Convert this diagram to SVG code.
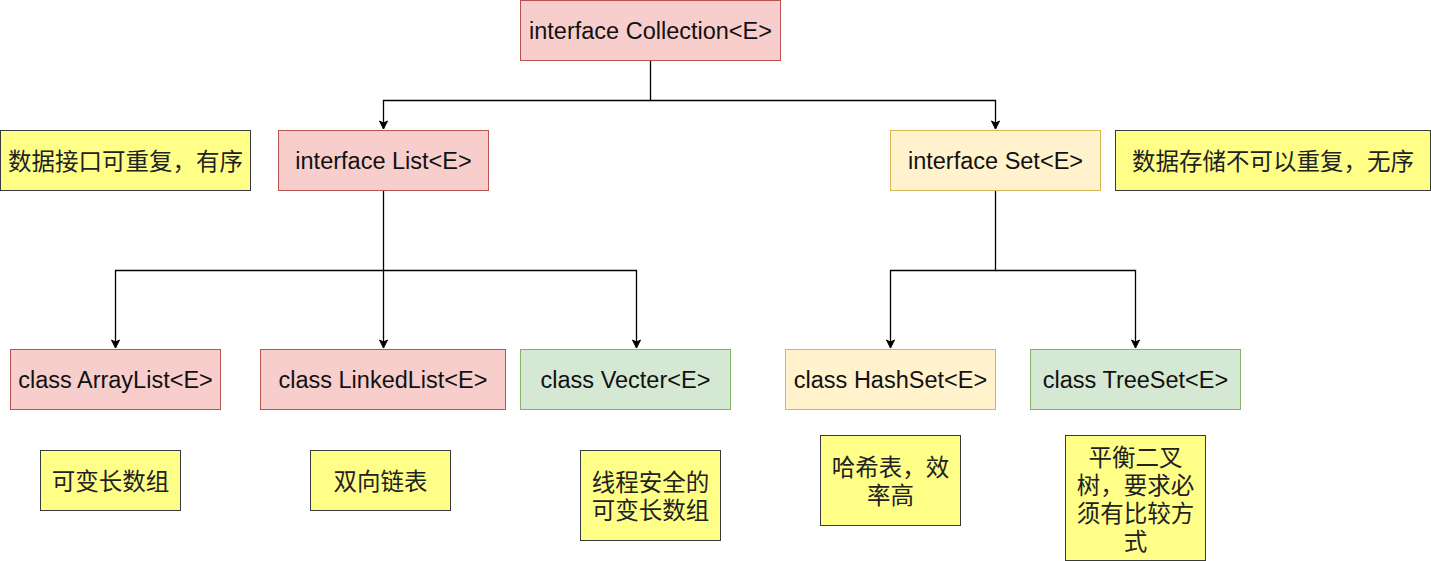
<svg xmlns="http://www.w3.org/2000/svg" width="1431" height="561" viewBox="0 0 1431 561">
<defs>
<marker id="arr" markerWidth="10" markerHeight="10" refX="9" refY="5" orient="auto" markerUnits="userSpaceOnUse">
<path d="M1,1 L9,5 L1,9 L3,5 Z" fill="#000" stroke="#000" stroke-width="1"/>
</marker>
<style>
.red{fill:#f8cecc;stroke:#b85450;stroke-width:1}
.ylw{fill:#fff2cc;stroke:#d6b656;stroke-width:1}
.grn{fill:#d5e8d4;stroke:#82b366;stroke-width:1}
.note{fill:#ffff88;stroke:#36393d;stroke-width:1}
.t{font-family:"Liberation Sans",Arial,sans-serif;font-size:23.5px;fill:#111;text-anchor:middle;dominant-baseline:central}
.c{font-family:"Noto Sans CJK SC","Noto Sans",sans-serif;font-size:23.5px;fill:#222;text-anchor:middle;dominant-baseline:central}
.e{fill:none;stroke:#000;stroke-width:1.3}
</style>
</defs>
<rect width="1431" height="561" fill="#fff"/>
<g id="connectors">
<path class="e" d="M650.5,60.5 V100.5 H383.5 V129" marker-end="url(#arr)"/>
<path class="e" d="M650.5,100.5 H995.5 V129" marker-end="url(#arr)"/>
<path class="e" d="M383.5,190.5 V348" marker-end="url(#arr)"/>
<path class="e" d="M383.5,270.5 H115.5 V348" marker-end="url(#arr)"/>
<path class="e" d="M383.5,270.5 H636.5 V348" marker-end="url(#arr)"/>
<path class="e" d="M995.5,190.5 V270.5 H890.5 V348" marker-end="url(#arr)"/>
<path class="e" d="M995.5,270.5 H1135.5 V348" marker-end="url(#arr)"/>
</g>
<g id="collection"><rect class="red" x="520.5" y="0.5" width="260" height="60"/><text class="t" x="650.5" y="31">interface Collection&lt;E&gt;</text></g>
<g id="list"><rect class="red" x="278.5" y="130.5" width="210" height="60"/><text class="t" x="383.5" y="161">interface List&lt;E&gt;</text></g>
<g id="set"><rect class="ylw" x="890.5" y="130.5" width="210" height="60"/><text class="t" x="995.5" y="161">interface Set&lt;E&gt;</text></g>
<g id="note-list"><rect class="note" x="0.5" y="130.5" width="250" height="60"/><text class="c" x="125.5" y="160">数据接口可重复，有序</text></g>
<g id="note-set"><rect class="note" x="1115.5" y="130.5" width="315" height="60"/><text class="c" x="1273" y="160">数据存储不可以重复，无序</text></g>
<g id="arraylist"><rect class="red" x="10.5" y="349.5" width="210" height="60"/><text class="t" x="115.5" y="380">class ArrayList&lt;E&gt;</text></g>
<g id="linkedlist"><rect class="red" x="260.5" y="349.5" width="245" height="60"/><text class="t" x="383" y="380">class LinkedList&lt;E&gt;</text></g>
<g id="vecter"><rect class="grn" x="520.5" y="349.5" width="210" height="60"/><text class="t" x="625.5" y="380">class Vecter&lt;E&gt;</text></g>
<g id="hashset"><rect class="ylw" x="785.5" y="349.5" width="210" height="60"/><text class="t" x="890.5" y="380">class HashSet&lt;E&gt;</text></g>
<g id="treeset"><rect class="grn" x="1030.5" y="349.5" width="210" height="60"/><text class="t" x="1135.5" y="380">class TreeSet&lt;E&gt;</text></g>
<g id="note-arraylist"><rect class="note" x="40.5" y="450.5" width="140" height="60"/><text class="c" x="110.5" y="480">可变长数组</text></g>
<g id="note-linkedlist"><rect class="note" x="310.5" y="450.5" width="140" height="60"/><text class="c" x="380.5" y="480">双向链表</text></g>
<g id="note-vecter"><rect class="note" x="580.5" y="450.5" width="140" height="90"/><text class="c" x="650.5" y="481"><tspan x="650.5" y="481">线程安全的</tspan><tspan x="650.5" y="509">可变长数组</tspan></text></g>
<g id="note-hashset"><rect class="note" x="820.5" y="435.5" width="140" height="90"/><text class="c" x="890.5" y="466"><tspan x="890.5" y="466">哈希表，效</tspan><tspan x="890.5" y="494">率高</tspan></text></g>
<g id="note-treeset"><rect class="note" x="1065.5" y="435.5" width="140" height="125"/><text class="c" x="1135.5" y="456"><tspan x="1135.5" y="456">平衡二叉</tspan><tspan x="1135.5" y="484">树，要求必</tspan><tspan x="1135.5" y="512">须有比较方</tspan><tspan x="1135.5" y="540">式</tspan></text></g>
</svg>
